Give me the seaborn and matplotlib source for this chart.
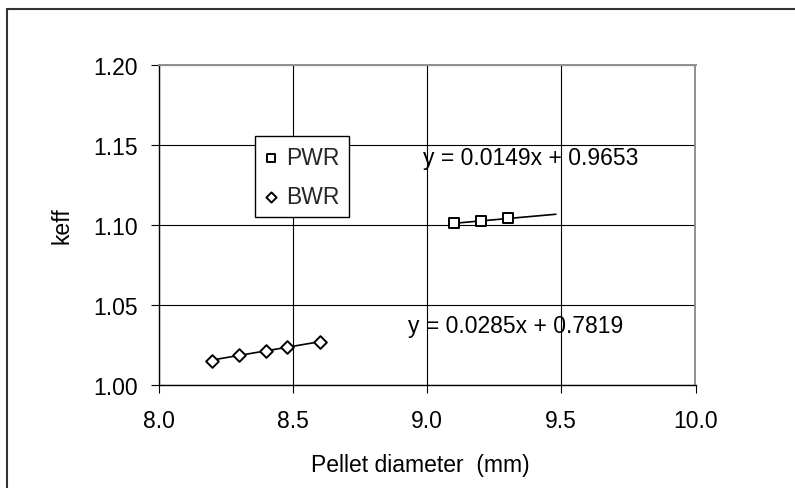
import numpy as np
import pandas as pd
import matplotlib
matplotlib.use("Agg")
import matplotlib.pyplot as plt
from matplotlib.lines import Line2D
import seaborn as sns

# ---- data ----
pwr_x = [9.1, 9.2, 9.3]
pwr_y = [1.1009, 1.1024, 1.1042]
bwr_x = [8.2, 8.3, 8.4, 8.48, 8.6]
bwr_y = [1.0150, 1.0186, 1.0210, 1.0236, 1.0270]

pwr_fit = (0.0149, 0.9653)   # slope, intercept
bwr_fit = (0.0285, 0.7819)
pwr_fit_range = [9.1, 9.48]
bwr_fit_range = [8.2, 8.6]

x_ticks = [8.0, 8.5, 9.0, 9.5, 10.0]
y_ticks = [1.00, 1.05, 1.10, 1.15, 1.20]
x_label = "Pellet diameter  (mm)"
y_label = "keff"
series_names = ["PWR", "BWR"]

# ---- style ----
sns.set_theme(style="ticks")
plt.rcParams["font.family"] = ["Liberation Sans", "DejaVu Sans"]
FS = 16.5

W, H = 795, 489
fig = plt.figure(figsize=(W / 100, H / 100), dpi=100)
ax = fig.add_axes([158.5 / W, 1 - 386 / H, (695.5 - 158.5) / W, (386 - 65.5) / H])

pwr_df = pd.DataFrame({"x": pwr_x, "y": pwr_y})
bwr_df = pd.DataFrame({"x": bwr_x, "y": bwr_y})

# trendlines
pfx = np.array(pwr_fit_range)
bfx = np.array(bwr_fit_range)
sns.lineplot(x=pfx, y=pwr_fit[0] * pfx + pwr_fit[1], ax=ax, color="black",
             lw=1.2, legend=False, zorder=3)
sns.lineplot(x=bfx, y=bwr_fit[0] * bfx + bwr_fit[1], ax=ax, color="black",
             lw=1.2, legend=False, zorder=3)

# markers
sns.scatterplot(data=pwr_df, x="x", y="y", ax=ax, marker="s", s=62,
                facecolor="white", edgecolor="black", linewidth=1.4,
                label=series_names[0], zorder=4)
sns.scatterplot(data=bwr_df, x="x", y="y", ax=ax, marker="D", s=42,
                facecolor="white", edgecolor="black", linewidth=1.4,
                label=series_names[1], zorder=4)

ax.set_xlim(8.0, 10.0)
ax.set_ylim(1.00, 1.20)
ax.set_xticks(x_ticks)
ax.set_yticks(y_ticks)
ax.set_xticklabels([f"{v:.1f}" for v in x_ticks])
ax.set_yticklabels([f"{v:.2f}" for v in y_ticks])

ax.grid(True, color="black", lw=0.8)
ax.set_axisbelow(True)
for s in ["left", "bottom"]:
    ax.spines[s].set_color("black")
    ax.spines[s].set_linewidth(1.0)
for s in ["top", "right"]:
    ax.spines[s].set_visible(True)
    ax.spines[s].set_color("#909090")
    ax.spines[s].set_linewidth(1.4)

ax.tick_params(axis="both", direction="out", length=6, width=0.8, color="black",
               labelsize=FS, labelcolor="black")
ax.tick_params(axis="x", pad=11)
ax.tick_params(axis="y", pad=9)

ax.set_xlabel(x_label, fontsize=FS, color="black")
ax.set_ylabel(y_label, fontsize=FS, color="black")
ax.xaxis.set_label_coords(0.487, -0.249)
ax.xaxis.label.set_verticalalignment("center")
ax.yaxis.set_label_coords(-0.179, 0.5)
ax.yaxis.label.set_verticalalignment("center")

# equations
ax.text(8.984, 1.1421, "y = 0.0149x + 0.9653", fontsize=FS, va="center", ha="left", color="black", zorder=5)
ax.text(8.930, 1.0369, "y = 0.0285x + 0.7819", fontsize=FS, va="center", ha="left", color="black", zorder=5)

# legend
leg = ax.legend(loc="upper left", bbox_to_anchor=(254.5 / W, 1 - 137 / H),
                bbox_transform=fig.transFigure, frameon=True, fancybox=False,
                edgecolor="black", facecolor="white", framealpha=1,
                fontsize=16.5, markerscale=0.8, handlelength=0.6,
                handletextpad=0.35, labelspacing=0.7, borderpad=0.42,
                borderaxespad=0)
leg.get_frame().set_linewidth(1.0)

# figure border (left and top visible)
fig.add_artist(Line2D([7 / W, 7 / W], [0, 1 - 10 / H], transform=fig.transFigure,
                      color="#333333", lw=1.5))
fig.add_artist(Line2D([7 / W, 1], [1 - 10 / H, 1 - 10 / H], transform=fig.transFigure,
                      color="#333333", lw=1.5))

fig.savefig("out.png", dpi=100, facecolor="white")
